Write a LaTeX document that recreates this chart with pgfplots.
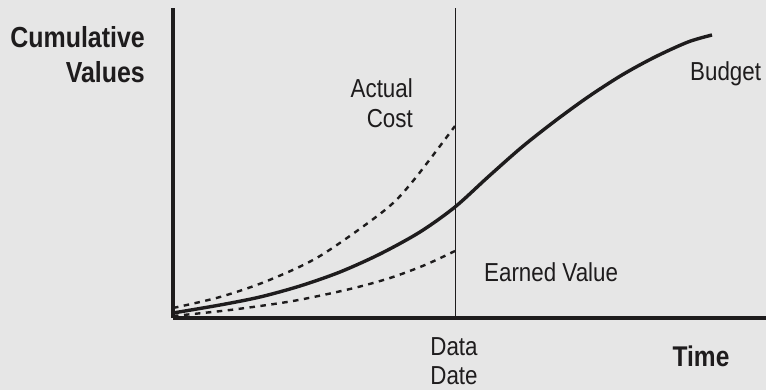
\documentclass[border=0pt]{standalone}
\usepackage{fontspec}
\setmainfont{Liberation Sans}[FakeStretch=0.86]
\usepackage{pgfplots}
\pgfplotsset{compat=1.18}
\definecolor{bg}{HTML}{E6E6E6}
\definecolor{ink}{HTML}{1E1C1D}

\begin{document}
\begin{tikzpicture}[x=1pt,y=1pt]
\fill[bg] (0,0) rectangle (766,390);
\begin{axis}[
    at={(173pt,72pt)}, anchor=south west,
    scale only axis,
    width=593pt, height=310pt,
    xmin=0, xmax=593, ymin=0, ymax=310,
    axis x line=bottom, axis y line=left,
    axis line style={-, line width=4.5pt, ink},
    xtick=\empty, ytick=\empty,
    clip=false,
]
% budget (solid)
\addplot[ink, line width=3.4pt, smooth] coordinates {
    (0,5) (47,13) (87,21) (127,32) (167,46) (207,64) (247,86) (282,111)
    (315,141) (349,171) (382,197) (415,221) (449,243) (482,261) (515,276) (539,283)
};
% actual cost (dashed)
\addplot[ink, line width=2.4pt, dash pattern=on 5.5pt off 5.5pt, smooth] coordinates {
    (0,10) (47,21) (94,37) (147,62) (212,108) (240,137) (282,192)
};
% earned value (dashed)
\addplot[ink, line width=2.4pt, dash pattern=on 5.5pt off 5.5pt, smooth] coordinates {
    (0,2) (57,8) (120,17) (177,29) (217,40) (252,53) (282,67)
};
% data date
\addplot[ink, line width=0.9pt] coordinates {(282,0) (282,310)};
\end{axis}
\begin{scope}[every node/.style={text=ink, font=\fontsize{26}{30}\selectfont, inner sep=0pt}]
\node[anchor=base east, font=\fontsize{29}{30}\selectfont\bfseries] at (145,342) {Cumulative};
\node[anchor=base east, font=\fontsize{29}{30}\selectfont\bfseries] at (145,307) {Values};
\node[anchor=base east] at (413,292) {Actual};
\node[anchor=base east] at (413,262) {Cost};
\node[anchor=base west] at (690,309) {Budget};
\node[anchor=base west] at (484,108) {Earned Value};
\node[anchor=base] at (454,34) {Data};
\node[anchor=base] at (454,5) {Date};
\node[anchor=base, font=\fontsize{28.5}{30}\selectfont\bfseries] at (701,23) {Time};
\end{scope}
\pgfresetboundingbox
\useasboundingbox (0,0) rectangle (766,390);
\end{tikzpicture}
\end{document}
